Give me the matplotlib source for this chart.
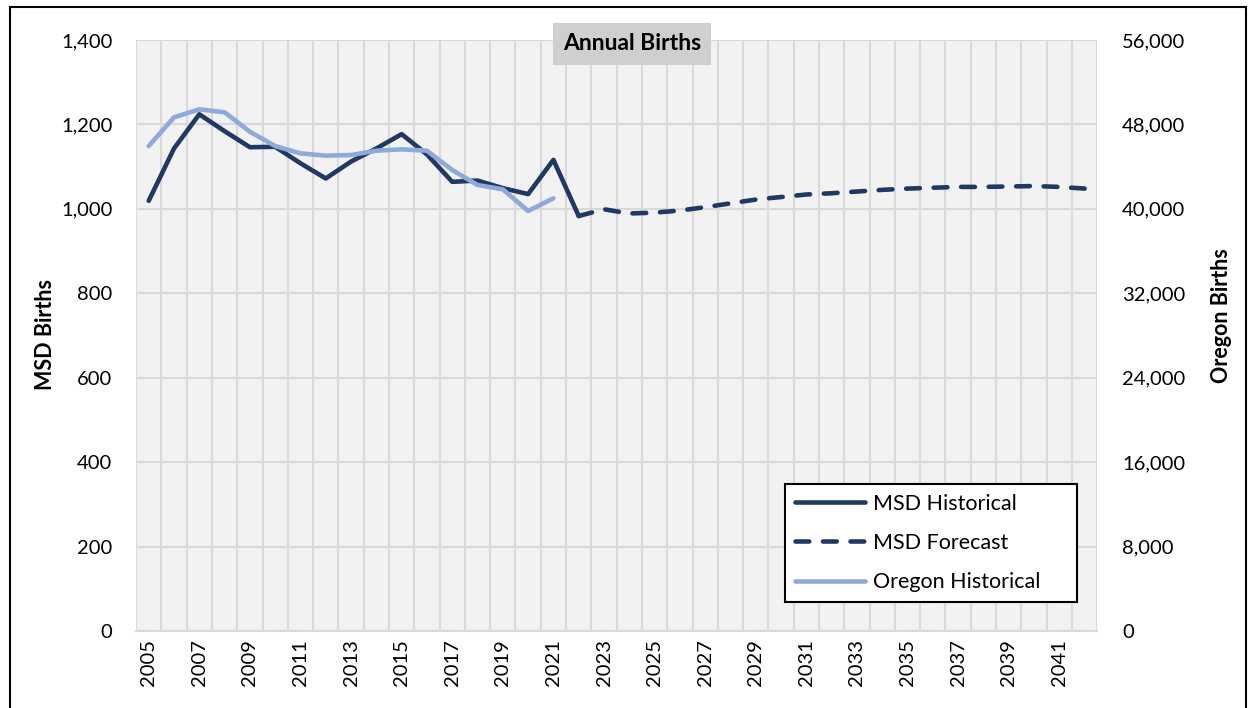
import matplotlib.pyplot as plt
from matplotlib.patches import Rectangle

plt.rcParams['font.family'] = ['Lato', 'DejaVu Sans']

# Datos
years = list(range(2005, 2043))
msd_hist = [1019, 1143, 1224, 1184, 1146, 1147, 1108, 1072, 1112, 1143,
            1177, 1129, 1064, 1067, 1049, 1035, 1116, 983]          # 2005-2022
msd_fcst = [983, 999, 989, 991, 996, 1004, 1013, 1022, 1028, 1034, 1037,
            1041, 1045, 1048, 1050, 1052, 1052, 1053, 1054, 1052, 1048]  # 2022-2042
oregon = [45950, 48670, 49430, 49150, 47310, 45950, 45260, 45040, 45100,
          45510, 45640, 45510, 43680, 42260, 41850, 39800, 41000]   # 2005-2021

dark = '#1f3864'
light = '#8eaadb'

fig = plt.figure(figsize=(12.54, 7.08), dpi=100)
ax = fig.add_axes([0.1085, 0.1088, 0.7665, 0.8347])
ax2 = ax.twinx()

x_idx = list(range(len(years)))
ax.plot(x_idx[:len(msd_hist)], msd_hist, color=dark, lw=3.3, label='MSD Historical',
        solid_capstyle='round', solid_joinstyle='round', zorder=3)
start = years.index(2022)
ax.plot(x_idx[start:start + len(msd_fcst)], msd_fcst, color=dark, lw=3.3,
        dashes=(3, 3), dash_capstyle='round', label='MSD Forecast', zorder=3)
ax2.plot(x_idx[:len(oregon)], oregon, color=light, lw=3.3, label='Oregon Historical',
         solid_capstyle='round', solid_joinstyle='round', zorder=3)

# Ejes
ax.set_xlim(-0.5, len(years) - 0.5)
ax.set_ylim(0, 1400)
ax2.set_ylim(0, 56000)
ax.set_yticks(range(0, 1401, 200))
ax.set_yticklabels([f'{v:,}' for v in range(0, 1401, 200)])
ax2.set_yticks(range(0, 56001, 8000))
ax2.set_yticklabels([f'{v:,}' for v in range(0, 56001, 8000)])
ax.set_xticks(x_idx[::2])
ax.set_xticklabels([str(y) for y in years[::2]], rotation=90)
ax.set_xticks([i - 0.5 for i in range(len(years) + 1)], minor=True)

ax.set_facecolor('#f2f2f2')
ax2.patch.set_visible(False)
ax.grid(axis='y', color='#d9d9d9', lw=1.5)
ax.grid(axis='x', which='minor', color='#d9d9d9', lw=1.5)
ax.set_axisbelow(True)
for a in (ax, ax2):
    for s in a.spines.values():
        s.set_visible(False)
ax.spines['bottom'].set_visible(True)
ax.spines['bottom'].set_color('#d9d9d9')
ax.spines['bottom'].set_linewidth(1.5)

ax.tick_params(axis='y', length=0, pad=17, labelsize=14.5)
ax2.tick_params(axis='y', length=0, pad=18, labelsize=14.5)
ax.tick_params(axis='x', which='both', length=0, pad=6, labelsize=14.5)

fig.text(45 / 1254, 1 - 335 / 708, 'MSD Births', rotation=90, ha='center', va='center',
         fontsize=15.5, fontweight='bold')
fig.text(1222 / 1254, 1 - 316 / 708, 'Oregon Births', rotation=90, ha='center', va='center',
         fontsize=15.5, fontweight='bold')

fig.text(632 / 1254, 1 - 44 / 708, 'Annual Births', ha='center', va='center',
         fontsize=16.5, fontweight='bold',
         bbox=dict(boxstyle='square,pad=0.45', fc='#d0cece', ec='none'), zorder=5)

h1, l1 = ax.get_legend_handles_labels()
h2, l2 = ax2.get_legend_handles_labels()
leg = ax2.legend(h1 + h2, l1 + l2, loc='lower left', mode='expand',
                 bbox_to_anchor=(0.675, 0.049, 0.304, 0.201), borderaxespad=0,
                 fontsize=15.5, frameon=True, fancybox=False, edgecolor='black',
                 framealpha=1, handlelength=3.25, handletextpad=0.4,
                 labelspacing=0.9, borderpad=0.45)
leg.get_frame().set_linewidth(1.5)

# Borde exterior
fig.patches.append(Rectangle((10 / 1254, -0.1), 1236 / 1254, 1.1 - 7 / 708,
                             transform=fig.transFigure, fill=False, ec='black', lw=1.5))

fig.savefig('out.png', dpi=100)
